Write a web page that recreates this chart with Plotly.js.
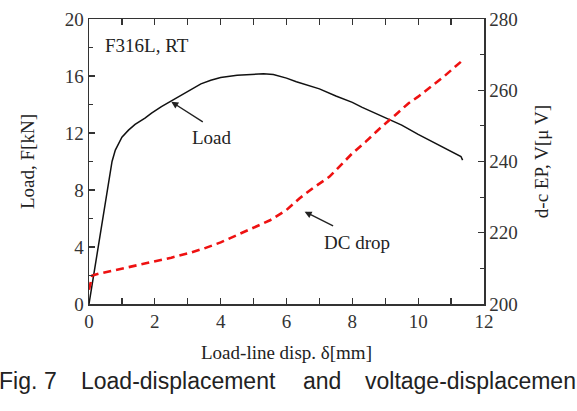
<!DOCTYPE html>
<html>
<head>
<meta charset="utf-8">
<script src="https://cdn.plot.ly/plotly-3.0.1.min.js"></script>
<style>html,body{margin:0;padding:0;background:#fff;}#chart{width:577px;height:411px;}</style>
</head>
<body>
<div id="chart"></div>
<script>
// Load curve: displacement (mm) vs load (kN)
const loadDisp = [0, 0.1, 0.2, 0.3, 0.4, 0.5, 0.6, 0.7, 0.8, 0.9, 1.0, 1.2, 1.4, 1.7, 1.9, 2.2, 2.55, 3.0, 3.4, 3.7, 4.0, 4.5, 5.0, 5.3, 5.6, 5.8, 6.0, 6.3, 6.7, 7.0, 7.5, 8.0, 8.3, 8.7, 9.2, 9.5, 10.0, 10.5, 11.0, 11.3, 11.35];
const loadKN   = [0, 1.4, 2.8, 4.2, 5.7, 7.2, 8.7, 10.0, 10.8, 11.3, 11.7, 12.2, 12.6, 13.05, 13.4, 13.85, 14.3, 14.9, 15.45, 15.7, 15.9, 16.05, 16.1, 16.15, 16.1, 16.0, 15.85, 15.6, 15.3, 15.1, 14.6, 14.15, 13.8, 13.4, 12.85, 12.55, 11.9, 11.3, 10.75, 10.35, 10.1];
// DC potential drop: displacement (mm) vs voltage (µV)
const dcDisp = [0, 0.05, 0.1, 0.3, 0.6, 1.0, 1.5, 2.0, 2.5, 3.0, 3.5, 4.0, 4.5, 5.0, 5.5, 6.0, 6.4, 6.8, 7.3, 7.6, 8.0, 8.4, 8.8, 9.3, 9.7, 10.0, 10.4, 10.8, 11.3];
const dcVolt = [204, 206.5, 208, 208.5, 209.1, 209.8, 210.8, 211.8, 213, 214.2, 215.6, 217.3, 219.3, 221.5, 223.5, 226.4, 229.7, 232.5, 235.7, 238.5, 242.3, 245.5, 249, 253, 256.3, 258.2, 261, 264, 268];

const serif = "Liberation Serif, Times New Roman, serif";
const sans = "Liberation Sans, Arial, sans-serif";
const ink = "#333";

const traces = [
  {x: loadDisp, y: loadKN, type: 'scatter', mode: 'lines', line: {color: '#111', width: 1.5}, hoverinfo: 'skip'},
  {x: dcDisp, y: dcVolt, yaxis: 'y2', type: 'scatter', mode: 'lines', line: {color: '#ee1111', width: 2.6, dash: '8px,5px'}, hoverinfo: 'skip'}
];

const W = 577, L = 89, R = 93;
function px(p) { return (p - L) / (W - L - R); }

const capWords = [["Fig.", -3], ["7", 42], ["Load-displacement", 79], ["and", 301], ["voltage-displacemen", 363]];
const capAnn = capWords.map(w => ({
  text: w[0], xref: 'paper', yref: 'paper', x: px(w[1]), y: (304 - 381) / 285,
  xanchor: 'left', yanchor: 'middle', showarrow: false,
  font: {family: sans, size: 23, color: '#222'}
}));

const layout = {
  width: 577, height: 411,
  margin: {l: L, r: R, t: 19, b: 107},
  paper_bgcolor: '#fff', plot_bgcolor: '#fff',
  showlegend: false,
  font: {family: serif, color: ink, size: 18},
  xaxis: {
    range: [0, 12], dtick: 2, tick0: 0, ticks: 'inside', ticklen: 6, tickwidth: 1.3, tickcolor: ink,
    showline: true, linecolor: ink, linewidth: 1.5, mirror: 'allticks', showgrid: false, zeroline: false,
    minor: {dtick: 1, ticks: 'inside', ticklen: 4, tickwidth: 1.2, tickcolor: ink, showgrid: false},
    tickfont: {family: serif, size: 19, color: ink},
    title: {text: 'Load-line disp. δ[mm]', font: {family: serif, size: 19, color: '#222'}, standoff: 14}
  },
  yaxis: {
    range: [0, 20], dtick: 4, tick0: 0, ticks: 'inside', ticklen: 6, tickwidth: 1.3, tickcolor: ink,
    showline: true, linecolor: ink, linewidth: 1.5, mirror: true, showgrid: false, zeroline: false,
    minor: {dtick: 2, ticks: 'inside', ticklen: 4, tickwidth: 1.2, tickcolor: ink, showgrid: false},
    tickfont: {family: serif, size: 19, color: ink},
    title: {text: 'Load, F[kN]', font: {family: serif, size: 19, color: '#222'}, standoff: 25}
  },
  yaxis2: {
    range: [200, 280], dtick: 20, tick0: 200, overlaying: 'y', side: 'right', ticks: 'inside', ticklen: 6, tickwidth: 1.3, tickcolor: ink,
    showline: true, linecolor: ink, linewidth: 1.5, showgrid: false, zeroline: false,
    minor: {dtick: 10, ticks: 'inside', ticklen: 4, tickwidth: 1.2, tickcolor: ink, showgrid: false},
    tickfont: {family: serif, size: 19, color: ink},
    title: {text: 'd-c EP, V[μ V]', font: {family: serif, size: 19, color: '#222'}, standoff: 18}
  },
  annotations: [
    {text: 'F316L, RT', x: 0.42, y: 18.16, xref: 'x', yref: 'y', xanchor: 'left', yanchor: 'middle', showarrow: false, font: {family: serif, size: 19, color: '#222'}},
    {text: 'Load', x: 3.73, y: 11.65, xref: 'x', yref: 'y', xanchor: 'center', yanchor: 'middle', showarrow: false, font: {family: serif, size: 19, color: '#222'}},
    {text: 'DC drop', x: 8.13, y: 4.29, xref: 'x', yref: 'y', xanchor: 'center', yanchor: 'middle', showarrow: false, font: {family: serif, size: 19, color: '#222'}},
    {text: '', x: 2.5, y: 14.19, xref: 'x', yref: 'y', showarrow: true, ax: 33, ay: 21, arrowhead: 2, arrowsize: 1, arrowwidth: 1.4, arrowcolor: '#222', standoff: 0},
    {text: '', x: 6.55, y: 6.48, xref: 'x', yref: 'y', showarrow: true, ax: 30, ay: 15, arrowhead: 2, arrowsize: 1, arrowwidth: 1.4, arrowcolor: '#222', standoff: 0}
  ].concat(capAnn)
};

Plotly.newPlot('chart', traces, layout, {staticPlot: true, displayModeBar: false});
</script>
</body>
</html>
